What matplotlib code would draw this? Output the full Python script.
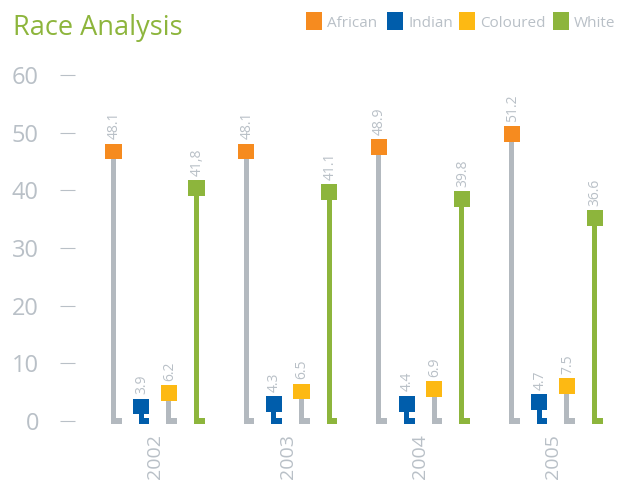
#!/usr/bin/env python3
"""Race analysis lollipop chart, 2002-2005."""

import matplotlib

matplotlib.use("Agg")
import matplotlib.pyplot as plt
from matplotlib.patches import Rectangle
import numpy as np

years = ["2002", "2003", "2004", "2005"]
races = ["African", "Indian", "Coloured", "White"]
african = [48.1, 48.1, 48.9, 51.2]
indian = [3.9, 4.3, 4.4, 4.7]
coloured = [6.2, 6.5, 6.9, 7.5]
white = [41.8, 41.1, 39.8, 36.6]
value_labels = [
    ["48.1", "48.1", "48.9", "51.2"],
    ["3.9", "4.3", "4.4", "4.7"],
    ["6.2", "6.5", "6.9", "7.5"],
    ["41,8", "41.1", "39.8", "36.6"],
]

series = [african, indian, coloured, white]
marker_colors = ["#f68b1f", "#005dab", "#fdb913", "#8db53c"]
stem_colors = ["#b3b9bf", "#005dab", "#b3b9bf", "#8db53c"]
text_gray = "#b9c0c7"
title_green = "#8db53c"

plt.rcParams["font.family"] = ["Open Sans", "DejaVu Sans"]

fig = plt.figure(figsize=(6.23, 4.83), dpi=100)
ax = fig.add_axes([0.1204, 0.1097, 0.8748, 0.7661])

offsets = [-0.3125, -0.104, 0.104, 0.3125]
stem_w = 0.038
sq_w = 0.122
sq_h = 2.75
foot_h = 0.9
x = np.arange(len(years))

for vals, labels, off, mc, sc in zip(series, value_labels, offsets, marker_colors, stem_colors):
    for xi, v, lab in zip(x + off, vals, labels):
        # stem from the baseline up to the marker
        ax.add_patch(Rectangle((xi - stem_w / 2, -0.45), stem_w, v, color=sc, lw=0))
        # little foot to the right at the baseline
        ax.add_patch(Rectangle((xi - stem_w / 2, -0.45), sq_w / 2 + stem_w / 2, foot_h,
                               color=sc, lw=0))
        # square marker hanging from the value
        ax.add_patch(Rectangle((xi - sq_w / 2, v - sq_h), sq_w, sq_h, color=mc, lw=0))
        ax.annotate(lab, (xi, v), xytext=(0.5, 3), textcoords="offset points",
                    rotation=90, ha="center", va="bottom", fontsize=10, color=text_gray)

ax.set_xlim(-0.603, 3.504)
ax.set_ylim(-1.56, 62.6)
ax.set_yticks(range(0, 61, 10))
ax.set_xticks(x)
ax.set_xticklabels(years, rotation=90, va="top")
ax.tick_params(axis="y", direction="out", length=11, width=0.8, color="#b9c0c7",
               pad=15, labelsize=17, labelcolor=text_gray)
ax.tick_params(axis="x", length=0, pad=3, labelsize=14, labelcolor=text_gray)
for s in ax.spines.values():
    s.set_visible(False)

fig.text(13 / 623, 1 - 35 / 483, "Race Analysis", fontsize=19.5, color=title_green,
         ha="left", va="baseline")

# legend across the top right
legend_x = [306, 387, 459, 553]
for lx, name, c in zip(legend_x, races, marker_colors):
    fig.add_artist(Rectangle((lx / 623, 1 - 30 / 483), 16 / 623, 18 / 483,
                             transform=fig.transFigure, color=c, lw=0))
    fig.text((lx + 21) / 623, 1 - 27 / 483, name, fontsize=11, color=text_gray,
             ha="left", va="baseline")

fig.savefig("out.png", dpi=100)
